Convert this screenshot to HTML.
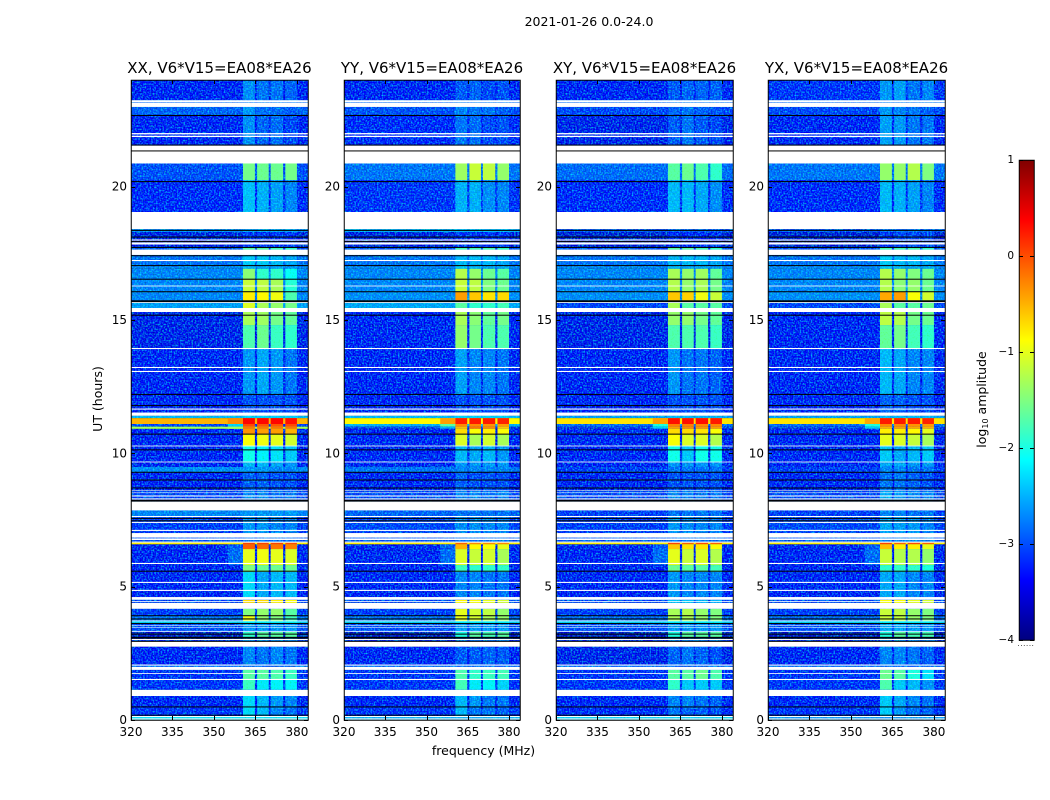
<!DOCTYPE html>
<html>
<head>
<meta charset="utf-8">
<title>2021-01-26 0.0-24.0</title>
<style>
html,body{margin:0;padding:0;background:#fff;}
svg{display:block;}
text{font-family:"DejaVu Sans","Liberation Sans",sans-serif;fill:#000;}
</style>
</head>
<body>
<svg id="chart" xmlns="http://www.w3.org/2000/svg" width="1050" height="800" viewBox="0 0 1050 800">
  <defs>
    <filter id="speckle-light" x="0" y="0" width="100%" height="100%" color-interpolation-filters="sRGB">
      <feTurbulence type="fractalNoise" baseFrequency="0.62" numOctaves="1" seed="3"/>
      <feColorMatrix type="matrix" values="0 0 0 0 0  1.9 0 0 0 -0.78  0 0 0 0 0  0 0 0 0 1"/>
    </filter>
    <filter id="speckle-dark" x="0" y="0" width="100%" height="100%" color-interpolation-filters="sRGB">
      <feTurbulence type="fractalNoise" baseFrequency="0.62" numOctaves="1" seed="11"/>
      <feColorMatrix type="matrix" values="0 0 0 0 1  0 0 0 0 1  0 1.2 0 0 0.45  0 0 0 0 1"/>
    </filter>
    <linearGradient id="jet-gradient" x1="0" y1="1" x2="0" y2="0"></linearGradient>
  </defs>
  <text x="589" y="26" text-anchor="middle" font-size="12.5">2021-01-26 0.0-24.0</text>
  <text x="483.5" y="755" text-anchor="middle" font-size="12.5">frequency (MHz)</text>
  <text transform="translate(102,399) rotate(-90)" text-anchor="middle" font-size="12.5">UT (hours)</text>
  <g id="panels"></g>
  <g id="colorbar">
    <rect x="1019" y="160" width="15" height="480" fill="url(#jet-gradient)"/>
    <rect x="1019.25" y="160.25" width="15" height="480" fill="none" stroke="#000" stroke-width="1"/>
    <text transform="translate(986,399.5) rotate(-90)" text-anchor="middle" font-size="12.5">log<tspan font-size="8" dy="2">10</tspan><tspan dy="-2"> amplitude</tspan></text>
    <text x="1026" y="646" text-anchor="middle" font-size="7" letter-spacing="0.6" fill="#777">......</text>
  </g>
</svg>
<script>
// Hour at which each spectrogram block starts (upper edge), descending; the last block ends at 0.
var rowTopHours = [24,23.25,22.99,22.69,21.56,20.89,20.25,19.05,18.41,18.3,17.74,17.64,17.44,17.04,16.92,16.53,16.05,15.71,15.64,15.3,14.81,13.95,12.21,11.41,11.32,11.1,11,10.92,10.72,10.29,9.69,9.49,9.29,8.61,8.19,7.86,7.65,7.01,6.65,6.59,6.41,5.81,5.55,4.61,4.5,4.39,4.17,3.91,3.73,3.62,3.3,3.11,2.94,2.75,2.06,1.88,1.5,1.13,0.9,0.49,0.15];
// log10 amplitude per block: [background, band1, band2, band3, band4, optional shoulder]
var xxLevels = [[-3.4,-2.8,-2.95,-2.95,-3.05],[-3,-2.9,-2.9,-2.9,-2.9],[-3.05,-2.75,-3,-3,-3.1],[-3.4,-2.8,-3.05,-3,-3.2],[-3,-3,-3,-3,-3],[-3.15,-1.55,-1.6,-1.6,-1.55],[-3.35,-2.5,-2.6,-2.7,-2.85],[-3,-3,-3,-3,-3],[-2.8,-2.65,-2.65,-2.65,-2.65],[-3.5,-3.3,-3.3,-3.3,-3.3],[-3.1,-1.7,-1.7,-1.8,-1.9],[-2.9,-2.9,-2.9,-2.9,-2.9],[-2.95,-2.45,-2.45,-2.55,-2.65],[-2.85,-2.55,-2.65,-2.65,-2.75],[-2.85,-1.45,-1.9,-1.9,-2.1],[-2.85,-1.15,-1.2,-1.3,-1.95],[-2.85,-0.8,-0.85,-0.95,-1.75],[-3,-3,-3,-3,-3],[-2.7,-1.05,-1.3,-1.4,-1.55],[-3.45,-1.3,-1.35,-1.55,-1.65],[-3.45,-1.75,-1.6,-1.85,-1.9],[-3.4,-2.75,-2.65,-2.75,-2.95],[-3.4,-3.15,-3.15,-3.15,-3.15],[-2.55,-2.4,-2.4,-2.4,-2.4],[-0.5,0.35,0.35,0.35,0.3,-0.3],[-3.2,0,-0.05,-0.05,0,-2.4],[-1.35,-0.2,-0.2,-0.2,-0.2,-1.35],[-3.4,-0.35,-0.4,-0.4,-0.5],[-3.4,-0.9,-0.95,-1,-1.1],[-3.4,-2.05,-2.2,-2.3,-2.45],[-3.4,-2.55,-2.55,-2.65,-2.75],[-2.8,-2.75,-2.75,-2.85,-2.85],[-3.4,-3.05,-3.05,-3.15,-3.15],[-3.2,-2.85,-2.85,-2.95,-2.95],[-3,-3,-3,-3,-3],[-2.85,-2.75,-2.75,-2.75,-2.75],[-3.25,-2.75,-2.75,-2.85,-2.85],[-3.1,-2.95,-2.95,-2.95,-2.95],[-0.8,0.05,0.05,0.05,0],[-3.4,-0.1,-0.15,-0.2,-0.25,-3.1],[-3.4,-1,-0.95,-1,-1.05,-3],[-3.4,-1.5,-1.6,-1.6,-1.6],[-3.4,-2.35,-2.65,-2.55,-2.55],[-3,-3,-3,-3,-3],[-3.2,-0.7,-0.7,-0.8,-0.9],[-3,-3,-3,-3,-3],[-3.25,-1.5,-1.4,-1.4,-1.7],[-2.95,-0.95,-1.4,-1.5,-1.8],[-2.4,-2.2,-2.2,-2.2,-2.2],[-3.15,-2.75,-2.75,-2.75,-2.75],[-3.6,-1.9,-1.7,-1.7,-1.7],[-3.3,-2.75,-2.75,-2.75,-2.75],[-3,-3,-3,-3,-3],[-3.4,-2.85,-2.95,-2.85,-2.95],[-3,-3,-3,-3,-3],[-3.3,-1.7,-1.7,-1.75,-1.85],[-3.3,-1.85,-2.25,-2.2,-2.2],[-3,-3,-3,-3,-3],[-3.4,-2.35,-2.55,-2.75,-2.85],[-3.3,-2.35,-2.55,-2.85,-2.95],[-2.3,-2.3,-2.3,-2.3,-2.3]];
var yyLevels = [[-3.4,-3.1,-3.05,-3.2,-3.15],[-3,-2.9,-2.9,-2.9,-2.9],[-3.15,-2.85,-2.95,-2.95,-3.1],[-3.35,-2.95,-3,-3.2,-3.15],[-3,-3,-3,-3,-3],[-2.95,-1.35,-1.15,-1.2,-1.4],[-3.3,-2.6,-2.6,-2.8,-2.85],[-3,-3,-3,-3,-3],[-2.6,-2.55,-2.55,-2.55,-2.55],[-3.5,-3.3,-3.3,-3.3,-3.3],[-3.1,-1.8,-1.8,-1.8,-1.9],[-2.9,-2.9,-2.9,-2.9,-2.9],[-2.95,-2.55,-2.55,-2.55,-2.65],[-2.85,-2.45,-2.55,-2.65,-2.65],[-2.85,-1.25,-1.4,-1.6,-1.7],[-2.85,-1.15,-1.2,-1.5,-1.6],[-2.8,-0.4,-0.6,-0.75,-0.7],[-3,-3,-3,-3,-3],[-2.65,-1.7,-1.9,-1.9,-1.8],[-3.4,-1.3,-1.45,-1.65,-1.55],[-3.4,-1.4,-1.55,-1.75,-1.75],[-3.4,-2.7,-2.85,-2.85,-2.95],[-3.4,-3.15,-3.15,-3.15,-3.15],[-2.55,-2.4,-2.4,-2.4,-2.4],[-0.85,0.25,0.25,0.25,0.2,-0.4],[-2.6,-0.3,-0.3,-0.35,-0.4,-1.7],[-3.2,-0.55,-0.2,-0.3,-0.6,-2.6],[-3.4,-0.7,-0.9,-0.8,-0.9],[-3.4,-1.05,-1.3,-1.1,-1.3],[-3.4,-2.55,-2.65,-2.55,-2.75],[-3.4,-2.75,-2.75,-2.75,-2.75],[-2.95,-2.85,-2.85,-2.85,-2.85],[-3.4,-3.05,-3.15,-3.15,-3.15],[-3.2,-2.85,-2.85,-2.95,-2.85],[-3,-3,-3,-3,-3],[-3.05,-2.95,-2.95,-2.95,-2.95],[-3.2,-2.8,-2.8,-2.85,-2.85],[-3.1,-2.95,-2.95,-2.95,-2.95],[-0.8,-0.1,-0.3,-0.3,-0.3],[-3.4,-0.5,-0.85,-0.9,-1,-3.1],[-3.4,-1.05,-1.15,-1.1,-1.3,-3],[-3.4,-1.85,-1.9,-1.9,-1.9],[-3.4,-2.85,-2.85,-2.95,-2.95],[-3,-3,-3,-3,-3],[-3.2,-0.85,-0.9,-1,-1.1],[-3,-3,-3,-3,-3],[-3.25,-1,-1.1,-1.2,-1.4],[-2.95,-1,-1.1,-1.3,-1.4],[-2.4,-2.2,-2.2,-2.2,-2.2],[-3.15,-2.75,-2.75,-2.75,-2.75],[-3.6,-2,-1.7,-1.8,-1.7],[-3.3,-2.85,-2.85,-2.85,-2.85],[-3,-3,-3,-3,-3],[-3.4,-3.1,-3.1,-3.05,-3.1],[-3,-3,-3,-3,-3],[-3.3,-1.75,-1.9,-1.85,-1.8],[-3.3,-1.8,-2.25,-2.2,-2.4],[-3,-3,-3,-3,-3],[-3.4,-2.55,-2.75,-2.95,-2.95],[-3.3,-2.55,-2.95,-2.95,-3.05],[-2.6,-2.6,-2.6,-2.6,-2.6]];
var xyLevels = [[-3.4,-3.1,-3.05,-3.05,-3.05],[-3,-2.9,-2.9,-2.9,-2.9],[-3.2,-3.05,-2.95,-3.05,-3.15],[-3.45,-3.1,-2.95,-3.1,-3.2],[-3,-3,-3,-3,-3],[-3,-1.7,-1.6,-1.75,-1.9],[-3.35,-2.55,-2.55,-2.65,-2.8],[-3,-3,-3,-3,-3],[-3.1,-3.05,-3.05,-3.05,-3.05],[-3.55,-3.35,-3.35,-3.35,-3.35],[-3.15,-1.7,-1.7,-1.8,-1.9],[-2.9,-2.9,-2.9,-2.9,-2.9],[-2.95,-2.55,-2.55,-2.55,-2.65],[-2.85,-2.55,-2.65,-2.65,-2.75],[-2.85,-1.3,-1.4,-1.35,-1.65],[-2.85,-1.25,-1.4,-1.3,-1.55],[-2.8,-0.6,-0.65,-0.95,-1.15],[-3,-3,-3,-3,-3],[-3.2,-1.3,-1.7,-1.7,-1.7],[-3.45,-1.4,-1.4,-1.55,-1.65],[-3.45,-1.75,-1.75,-1.75,-1.85],[-3.4,-2.75,-2.95,-2.95,-3.05],[-3.4,-3.15,-3.15,-3.15,-3.15],[-2.7,-2.55,-2.55,-2.55,-2.55],[-0.75,0.3,0.3,0.3,0.25,-0.4],[-3,-0.25,-0.25,-0.3,-0.3,-2],[-3.2,-0.4,-0.3,-0.35,-0.4,-2.4],[-3.4,-0.7,-0.7,-0.75,-0.9],[-3.4,-0.9,-1.05,-1.05,-1.25],[-3.4,-2.05,-2.45,-2.05,-2.05],[-3.4,-2.75,-2.75,-2.75,-2.75],[-3.25,-2.95,-2.95,-2.95,-2.95],[-3.4,-3.15,-3.15,-3.15,-3.15],[-3.2,-2.85,-2.85,-2.95,-2.95],[-3,-3,-3,-3,-3],[-3.25,-2.95,-2.95,-2.95,-2.95],[-3.25,-2.75,-2.8,-2.85,-2.85],[-3.1,-2.95,-2.95,-2.95,-2.95],[-0.8,0.05,-0.1,0,-0.1],[-3.4,-0.6,-0.75,-0.75,-0.9,-3.1],[-3.4,-1,-1.15,-1.05,-1.25,-3],[-3.4,-1.6,-1.7,-1.7,-1.8],[-3.4,-2.75,-2.85,-2.85,-2.85],[-3,-3,-3,-3,-3],[-3.2,-2.45,-2.45,-2.55,-2.55],[-3,-3,-3,-3,-3],[-3.25,-1.3,-1.25,-1.4,-1.5],[-3,-1.3,-1.3,-1.4,-1.5],[-2.4,-2.2,-2.2,-2.2,-2.2],[-3.15,-2.75,-2.75,-2.75,-2.75],[-3.6,-2,-1.7,-1.7,-1.7],[-3.3,-2.85,-2.85,-2.85,-2.85],[-3,-3,-3,-3,-3],[-3.45,-3.05,-2.95,-3.05,-3.15],[-3,-3,-3,-3,-3],[-3.3,-1.7,-1.7,-1.6,-1.75],[-3.3,-1.9,-2.45,-2.45,-2.45],[-3,-3,-3,-3,-3],[-3.4,-2.85,-2.85,-2.95,-3.05],[-3.35,-2.95,-3.05,-3.05,-3.15],[-2.4,-2.4,-2.4,-2.4,-2.4]];
var yxLevels = [[-3.3,-2.75,-2.7,-2.95,-2.85],[-3,-2.9,-2.9,-2.9,-2.9],[-3.2,-2.75,-2.85,-2.95,-3.05],[-3.4,-2.7,-2.75,-2.95,-2.95],[-3,-3,-3,-3,-3],[-2.95,-1.4,-1.4,-1.25,-1.5],[-3.35,-2.55,-2.6,-2.7,-2.85],[-3,-3,-3,-3,-3],[-3.1,-2.95,-2.95,-2.95,-2.95],[-3.55,-3.3,-3.2,-3.2,-3.2],[-3.15,-1.8,-1.8,-1.8,-1.9],[-2.9,-2.9,-2.9,-2.9,-2.9],[-2.95,-2.45,-2.55,-2.55,-2.65],[-2.85,-2.45,-2.55,-2.65,-2.65],[-2.85,-1.25,-1.4,-1.5,-1.6],[-2.85,-1.25,-1.45,-1.4,-1.6],[-2.8,-0.45,-0.4,-0.9,-1.1],[-3,-3,-3,-3,-3],[-3.2,-1.3,-1.7,-1.7,-1.6],[-3.4,-1.2,-1.25,-1.55,-1.6],[-3.4,-1.65,-1.55,-1.8,-1.9],[-3.4,-2.55,-2.65,-2.85,-2.85],[-3.4,-3.05,-3.05,-3.15,-3.15],[-2.7,-2.55,-2.55,-2.55,-2.55],[-0.75,0.25,0.25,0.25,0.2,-0.45],[-3,-0.3,-0.3,-0.35,-0.4,-2],[-3.2,-0.5,-0.4,-0.45,-0.5,-2.4],[-3.4,-0.8,-0.8,-0.85,-1],[-3.4,-1,-1.05,-1.15,-1.3],[-3.4,-2.45,-2.65,-2.55,-2.45],[-3.4,-2.65,-2.65,-2.75,-2.75],[-3.25,-2.85,-2.85,-2.95,-2.95],[-3.4,-2.95,-2.95,-3.05,-3.15],[-3.2,-2.65,-2.75,-2.85,-2.85],[-3,-3,-3,-3,-3],[-3.25,-2.85,-2.85,-2.95,-2.95],[-3.2,-2.65,-2.7,-2.75,-2.85],[-3.1,-2.85,-2.85,-2.85,-2.85],[-0.8,0.05,-0.1,0,-0.1],[-3.4,-0.55,-0.8,-0.8,-1,-3.1],[-3.4,-1.15,-1.25,-1.25,-1.4,-3],[-3.4,-1.9,-1.9,-1.9,-2],[-3.4,-2.65,-2.65,-2.85,-2.85],[-3,-3,-3,-3,-3],[-3.2,-0.9,-0.9,-1,-1.1],[-3,-3,-3,-3,-3],[-3.25,-1.15,-1.2,-1.4,-1.5],[-3,-1.15,-1.2,-1.4,-1.5],[-2.4,-2.2,-2.2,-2.2,-2.2],[-3.15,-2.65,-2.65,-2.75,-2.75],[-3.6,-2,-1.7,-1.8,-1.8],[-3.3,-2.75,-2.75,-2.85,-2.85],[-3,-3,-3,-3,-3],[-3.4,-2.85,-2.85,-2.95,-3.05],[-3,-3,-3,-3,-3],[-3.3,-1.6,-1.7,-2,-2.3],[-3.3,-1.75,-2.45,-2.55,-2.75],[-3,-3,-3,-3,-3],[-3.4,-2.45,-2.65,-2.85,-2.95],[-3.3,-2.45,-2.75,-2.95,-3.05],[-2.75,-2.75,-2.75,-2.75,-2.75]];
// Frequency limits (MHz) of the four bright sub-bands and the shoulder.
var bandStartMHz = [360.5,365.6,370.5,375.8];
var bandEndMHz = [364.8,369.8,375,380];
var shoulderStartMHz = 355;
// Flagged (blank) time ranges, hours [upper, lower].
var flaggedHours = [[23.24,23.16],[23.14,22.99],[22.01,21.96],[21.91,21.86],[21.54,20.87],[19.05,18.41],[18.02,17.98],[17.91,17.83],[17.64,17.44],[17.25,17.21],[16.29,16.26],[15.69,15.64],[15.45,15.3],[13.95,13.91],[13.24,13.2],[13.09,13.05],[11.68,11.64],[11.53,11.41],[10.29,10.26],[9.69,9.66],[8.61,8.59],[8.53,8.51],[8.42,8.38],[8.31,8.27],[8.19,7.86],[7.65,7.61],[7.43,7.39],[7.13,7.09],[7.01,6.84],[6.81,6.75],[6.69,6.65],[5.89,5.85],[5.18,5.14],[4.88,4.84],[4.61,4.51],[4.46,4.43],[4.39,4.17],[3.73,3.7],[3.55,3.53],[3.47,3.45],[3.34,3.31],[3.04,3],[2.94,2.75],[2.08,2.04],[1.99,1.88],[1.76,1.73],[1.54,1.5],[1.13,0.9],[0.15,0.11],[0.06,0.02]];
// Times (hours) with dark zero-amplitude lines.
var darkLineHours = [22.67,21.56,21.34,20.19,18.36,18.11,17.94,17.72,17.41,17.04,16.53,16.06,15.72,15.69,15.18,12.21,11.79,10.72,10.13,9.29,9,8.7,8.24,8.21,7.56,7.47,5.58,3.91,3.79,3.62,3.22,3.1,3.07,2.95,0.49,0.18];
// Tick labels and panel titles.
var freqTicks = [320,335,350,365,380];
var hourTicks = [0,5,10,15,20];
var colorTicks = [-4,-3,-2,-1,0,1];
var panelTitles = ["XX, V6*V15=EA08*EA26","YY, V6*V15=EA08*EA26","XY, V6*V15=EA08*EA26","YX, V6*V15=EA08*EA26"];
var panelLevels = [xxLevels,yyLevels,xyLevels,yxLevels];

var SVGNS = "http://www.w3.org/2000/svg";
var panelBoxes = [{l:131,w:177},{l:344,w:176},{l:556,w:177},{l:768,w:177}];
var plotTop = 80, plotBottom = 720, freqMin = 320, freqSpan = 64, smoothAbove = -1.6;

function yScale(h){ return plotBottom - (plotBottom - plotTop) * h / 24; }
function xScale(box, f){ return box.l + box.w * (f - freqMin) / freqSpan; }
function colorPos(v){ return 640 - (v + 4) * 96; }
function clamp01(v){ return Math.max(0, Math.min(1, v)); }
function jet(n){
  var r = clamp01(Math.min(4*n - 1.5, -4*n + 4.5));
  var g = clamp01(Math.min(4*n - 0.5, -4*n + 3.5));
  var b = clamp01(Math.min(4*n + 0.5, -4*n + 2.5));
  return "rgb(" + Math.round(r*255) + "," + Math.round(g*255) + "," + Math.round(b*255) + ")";
}
function levelColor(v){ return jet((v + 4) / 5); }
function makeRect(parent, x, y, w, h, fill){
  var el = document.createElementNS(SVGNS, "rect");
  el.setAttribute("x", x);
  el.setAttribute("y", y);
  el.setAttribute("width", w);
  el.setAttribute("height", h);
  el.setAttribute("fill", fill);
  parent.appendChild(el);
  return el;
}
function makeLine(parent, x1, y1, x2, y2){
  var el = document.createElementNS(SVGNS, "line");
  el.setAttribute("x1", x1);
  el.setAttribute("y1", y1);
  el.setAttribute("x2", x2);
  el.setAttribute("y2", y2);
  el.setAttribute("stroke", "#000");
  el.setAttribute("stroke-width", "1");
  parent.appendChild(el);
  return el;
}
function makeText(parent, x, y, anchor, size, str){
  var el = document.createElementNS(SVGNS, "text");
  el.setAttribute("x", x);
  el.setAttribute("y", y);
  el.setAttribute("text-anchor", anchor);
  el.setAttribute("font-size", size);
  el.textContent = str;
  parent.appendChild(el);
  return el;
}

var panelsRoot = document.getElementById("panels");
panelBoxes.forEach(function(box, p){
  var g = document.createElementNS(SVGNS, "g");
  
  
  panelsRoot.appendChild(g);

  var heat = document.createElementNS(SVGNS, "g");
  heat.setAttribute("style", "isolation:isolate");
  
  
  g.appendChild(heat);

  var bright = document.createElementNS(SVGNS, "g");
  
  

  function layerFor(v){ return v > smoothAbove ? bright : heat; }

  var levels = panelLevels[p];
  rowTopHours.forEach(function(top, i){
    var bottom = i + 1 < rowTopHours.length ? rowTopHours[i+1] : 0;
    var y0 = yScale(top), y1 = yScale(bottom), row = levels[i];
    var bg = makeRect(layerFor(row[0]), box.l, y0, box.w, y1 - y0, levelColor(row[0]));
    
    
    if (row.length > 5) {
      var sx = xScale(box, shoulderStartMHz);
      var sh = makeRect(layerFor(row[5]), sx, y0, xScale(box, bandStartMHz[0]) - sx, y1 - y0, levelColor(row[5]));
      
      
    }
    for (var b = 0; b < 4; b++) {
      var bx = xScale(box, bandStartMHz[b]);
      var cell = makeRect(layerFor(row[b+1]), bx, y0, xScale(box, bandEndMHz[b]) - bx, y1 - y0, levelColor(row[b+1]));
      
      
    }
  });

  var noiseA = makeRect(heat, box.l, plotTop, box.w, plotBottom - plotTop, "#000");
  noiseA.setAttribute("filter", "url(#speckle-light)");
  noiseA.setAttribute("style", "mix-blend-mode:screen");
  
  
  var noiseB = makeRect(heat, box.l, plotTop, box.w, plotBottom - plotTop, "#000");
  noiseB.setAttribute("filter", "url(#speckle-dark)");
  noiseB.setAttribute("style", "mix-blend-mode:multiply");
  
  

  g.appendChild(bright);

  flaggedHours.forEach(function(f){
    var y0 = yScale(f[0]), y1 = yScale(f[1]);
    var gap = makeRect(g, box.l, y0, box.w, y1 - y0, "#fff");
    
    
  });
  darkLineHours.forEach(function(h){
    var ln = makeRect(g, box.l, yScale(h) - 0.5, box.w, 1, "#000");
    
    
  });

  var frame = document.createElementNS(SVGNS, "rect");
  frame.setAttribute("x", box.l + 0.25);
  frame.setAttribute("y", plotTop + 0.25);
  frame.setAttribute("width", box.w);
  frame.setAttribute("height", plotBottom - plotTop);
  frame.setAttribute("fill", "none");
  frame.setAttribute("stroke", "#000");
  
  
  g.appendChild(frame);

  var title = makeText(g, box.l + box.w/2, 73, "middle", 15, panelTitles[p]);
  
  

  freqTicks.forEach(function(f){
    var x = Math.round(xScale(box, f)) + 0.5;
    var t1 = makeLine(g, x, plotBottom, x, plotBottom - 4);
    
    
    var t2 = makeLine(g, x, plotTop, x, plotTop + 4);
    
    
    var lbl = makeText(g, xScale(box, f), 736, "middle", 12, String(f));
    
    
  });
  hourTicks.forEach(function(h){
    var y = Math.round(yScale(h)) + 0.5;
    var t1 = makeLine(g, box.l, y, box.l + 4, y);
    
    
    var t2 = makeLine(g, box.l + box.w - 4, y, box.l + box.w, y);
    
    
    var lbl = makeText(g, box.l - 4, yScale(h) + 4, "end", 12, String(h));
    
    
  });
});

var grad = document.getElementById("jet-gradient");
for (var s = 0; s <= 64; s++) {
  var stop = document.createElementNS(SVGNS, "stop");
  stop.setAttribute("offset", (s / 64 * 100) + "%");
  stop.setAttribute("stop-color", jet(s / 64));
  grad.appendChild(stop);
}
var cbar = document.getElementById("colorbar");
colorTicks.forEach(function(v){
  var y = Math.round(colorPos(v)) + 0.5;
  var t1 = makeLine(cbar, 1019, y, 1023, y);
  
  
  var t2 = makeLine(cbar, 1030, y, 1034, y);
  
  
  var lbl = makeText(cbar, 1014, colorPos(v) + 3, "end", 10.5, (v < 0 ? "\u2212" + Math.abs(v) : String(v)));
  
  
});
</script>
</body>
</html>
